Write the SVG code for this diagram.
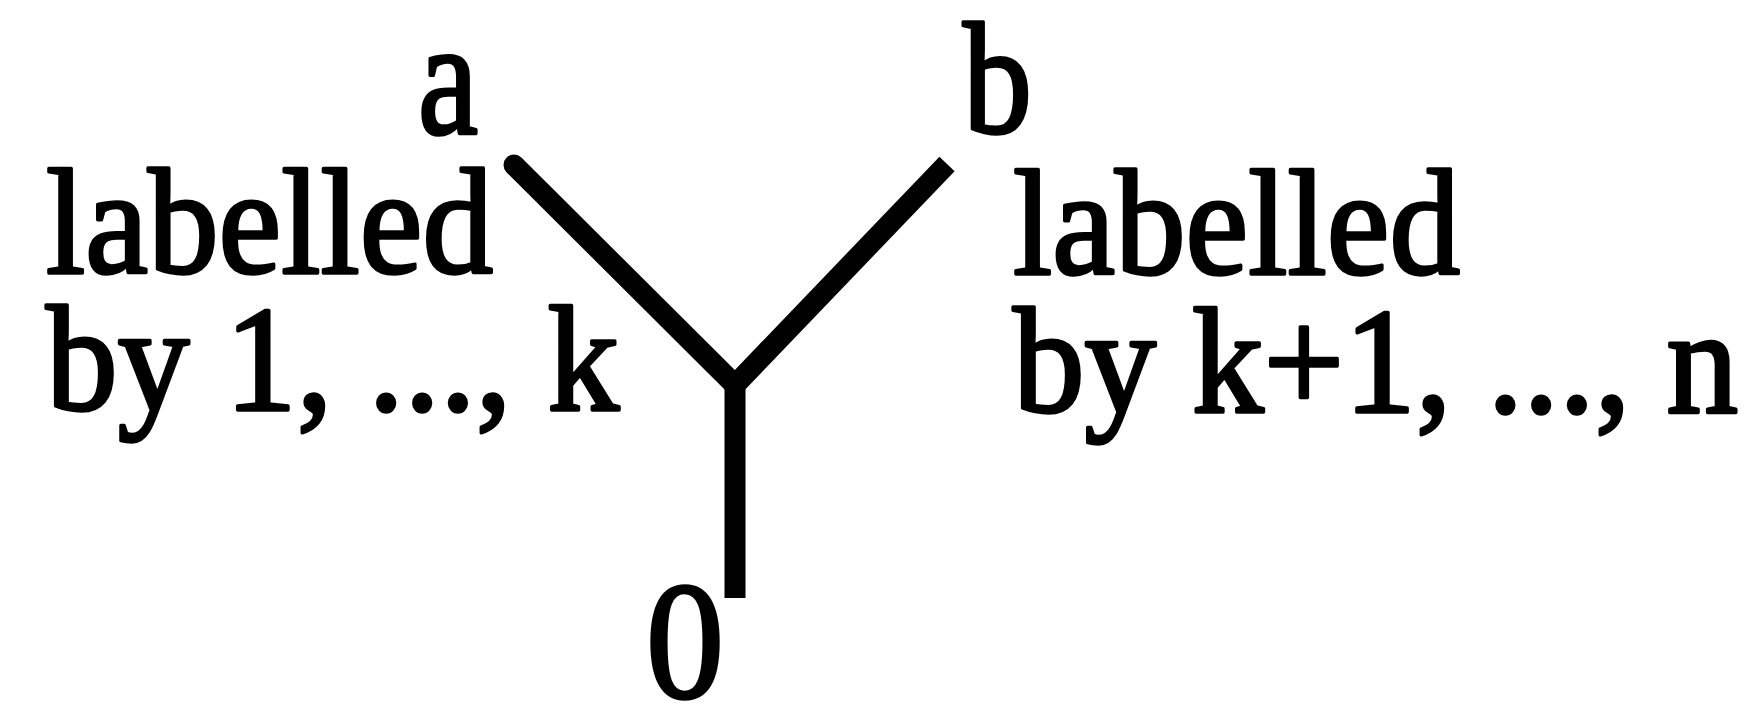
<svg xmlns="http://www.w3.org/2000/svg" width="1744" height="710" viewBox="0 0 1744 710">
<style>
.t{font-family:"Liberation Serif","Times New Roman",serif;font-size:150px;fill:#000;stroke:#000;stroke-width:3.5px;stroke-linejoin:round}
.e{stroke:#000;stroke-width:21;fill:none;stroke-linecap:butt}
</style>
<rect width="1744" height="710" fill="#fff"/>
<g id="connectors">
<line class="e" x1="514" y1="165" x2="735" y2="385" style="stroke-linecap:round"/>
<line class="e" x1="947" y1="164" x2="735" y2="385"/>
<line class="e" x1="735" y1="378" x2="735" y2="598"/>
</g>
<g id="node-a"><text class="t" x="418" y="133" style="font-size:165px" textLength="60" lengthAdjust="spacingAndGlyphs">a</text></g>
<g id="node-b"><text class="t" x="963" y="132" style="font-size:158px" textLength="69" lengthAdjust="spacingAndGlyphs">b</text></g>
<g id="node-0"><text class="t" x="646" y="697" style="font-size:168px" textLength="78" lengthAdjust="spacingAndGlyphs">0</text></g>
<g id="label-left">
<text class="t" x="46" y="273" textLength="447" lengthAdjust="spacingAndGlyphs">labelled</text>
<text class="t" x="46" y="410" textLength="573" lengthAdjust="spacingAndGlyphs">by 1, ..., k</text>
</g>
<g id="label-right">
<text class="t" x="1013" y="274" textLength="447" lengthAdjust="spacingAndGlyphs">labelled</text>
<text class="t" x="1013" y="412" textLength="725" lengthAdjust="spacingAndGlyphs">by k+1, ..., n</text>
</g>
</svg>
